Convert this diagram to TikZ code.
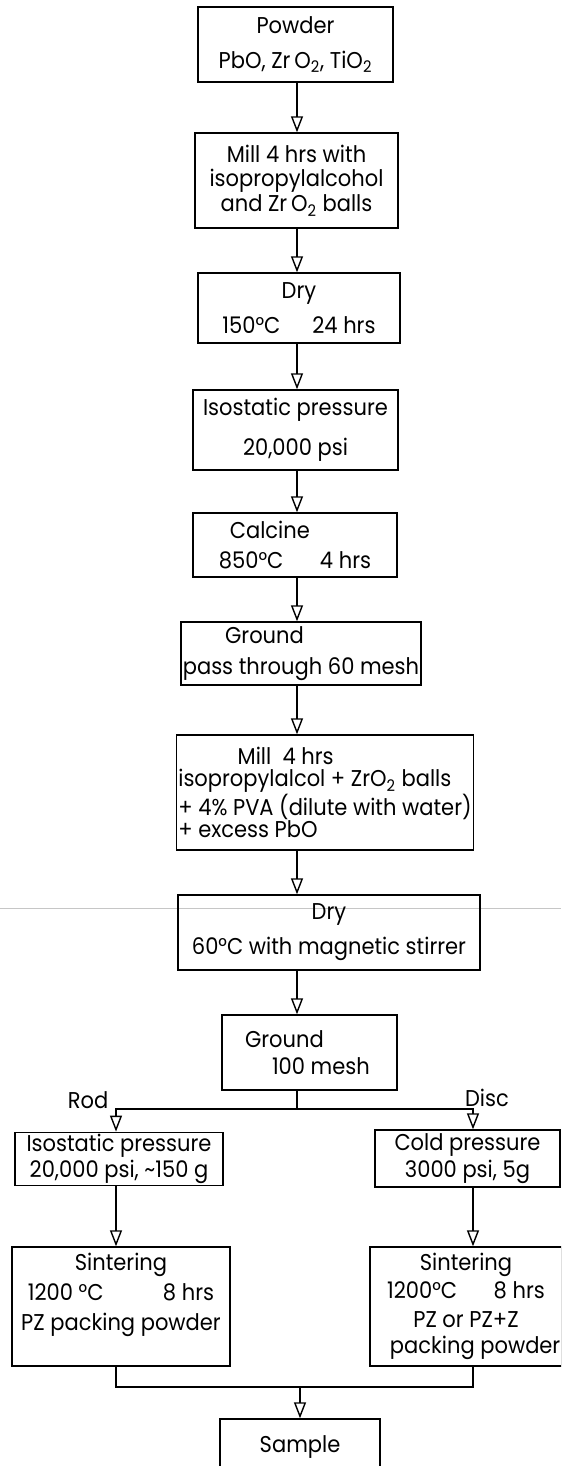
\documentclass[tikz,border=0pt]{standalone}
\usepackage{fontspec}
\setmainfont{Poppins}[FakeStretch=0.92]
\usetikzlibrary{arrows.meta,positioning,calc}

\begin{document}
\begin{tikzpicture}[x=0.02cm, y=-0.02cm,
  stepbox/.style 2 args={rectangle, draw, line width=0.8pt, minimum width=#1*0.02cm, minimum height=#2*0.02cm, inner sep=1pt, align=center, font=\fontsize{13}{14}\selectfont},
  lbl/.style={font=\fontsize{13}{14}\selectfont},
  msg/.style={-{Triangle[open, length=3.2mm, width=2.4mm]}, line width=0.8pt},
  link/.style={line width=0.8pt}
]
  \path[use as bounding box, clip] (0,0) rectangle (561,1466);
  \fill[white] (0,0) rectangle (561,1466);
  % scan line
  \draw[gray!45, line width=0.5pt] (0,908) -- (561,908);

  % main chain
  \node[stepbox={195}{75}] (pow) at (295.5,44.5) {Powder\\[6pt]PbO, Zr\,O\textsubscript{2}, TiO\textsubscript{2}};
  \node[stepbox={203}{95}] (mill1) at (296.5,180.5) {Mill 4 hrs with\\isopropylalcohol\\and Zr\,O\textsubscript{2} balls};
  \node[stepbox={202}{70}] (dry1) at (299,308) {Dry\\[6pt]150°C\hspace{1.4em}24 hrs};
  \node[stepbox={205}{80}] (iso1) at (295.5,430) {Isostatic pressure\\[9pt]20,000 psi};
  \node[stepbox={204}{64}] (calc) at (295,545) {Calcine\hspace*{2.2em}\\[3pt]850°C\hspace{1.6em}4 hrs};
  \node[stepbox={238}{63}] (grd1) at (301,653.5) {Ground\hspace*{3.2em}\\[4pt]pass through 60 mesh};
  \node[stepbox={290}{115}, align=left, font=\fontsize{13}{12.5}\selectfont] (mill2) at (325,792.5) {\hspace*{2.6em}Mill\ \ 4 hrs\\isopropylalcol + ZrO\textsubscript{2} balls\\+ 4\% PVA (dilute with water)\\+ excess PbO};
  \node[stepbox={302}{75}] (dry2) at (329,932.5) {Dry\\[6pt]60°C with magnetic stirrer};
  \node[stepbox={175}{75}] (grd2) at (309.5,1052.5) {Ground\hspace*{2.2em}\\[1pt]\hspace*{1em}100 mesh};

  % branches
  \node[lbl] (rod) at (88,1100) {Rod};
  \node[lbl] (disc) at (487,1098) {Disc};
  \node[stepbox={208}{52}] (iso2) at (119,1159) {\rule{0pt}{8pt}Isostatic pressure\\[1pt]20,000 psi, \textasciitilde150 g};
  \node[stepbox={185}{57}] (cold) at (467.5,1158.5) {\rule{0pt}{8pt}Cold pressure\\[1pt]3000 psi, 5g};
  \node[stepbox={218}{119}] (sin1) at (121,1306.5) {Sintering\\[3pt]1200 °C\hspace{2.6em}8 hrs\\[3pt]PZ packing powder\\[3pt]\mbox{}};
  \node[stepbox={188}{119}] (sin2) at (466,1306.5) {Sintering\\[2pt]1200°C\hspace{1.6em}8 hrs\\[2pt]PZ or PZ+Z\hspace*{1.2em}\\[1pt]\hspace*{0.8em}packing powder};
  \node[stepbox={160}{56}] (smp) at (300,1447) {Sample};

  % connectors
  \coordinate (tk) at (297,0);
  \coordinate (lx) at (116,0);
  \coordinate (rx) at (473,0);
  \coordinate (sp) at (297,1109);
  \coordinate (jn) at (300,1387);
  \draw[msg] (pow.south -| tk) -- (mill1.north -| tk);
  \draw[msg] (mill1.south -| tk) -- (dry1.north -| tk);
  \draw[msg] (dry1.south -| tk) -- (iso1.north -| tk);
  \draw[msg] (iso1.south -| tk) -- (calc.north -| tk);
  \draw[msg] (calc.south -| tk) -- (grd1.north -| tk);
  \draw[msg] (grd1.south -| tk) -- (mill2.north -| tk);
  \draw[msg] (mill2.south -| tk) -- (dry2.north -| tk);
  \draw[msg] (dry2.south -| tk) -- (grd2.north -| tk);
  \draw[link] (grd2.south -| tk) -- (sp);
  \draw[msg] (sp) -| (iso2.north -| lx);
  \draw[msg] (sp) -| (cold.north -| rx);
  \draw[msg] (iso2.south -| lx) -- (sin1.north -| lx);
  \draw[msg] (cold.south -| rx) -- (sin2.north -| rx);
  \draw[link] (sin1.south -| lx) |- (jn -| rx) -- (sin2.south -| rx);
  \draw[msg] (jn) -- (smp.north -| jn);
\end{tikzpicture}
\end{document}
